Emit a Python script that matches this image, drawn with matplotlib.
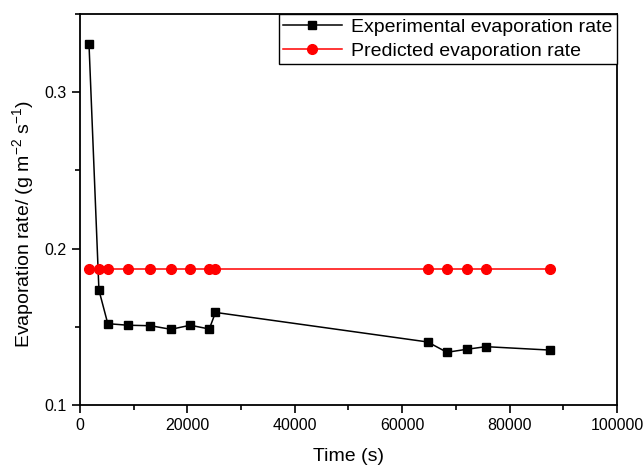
import matplotlib
matplotlib.use("Agg")
import matplotlib.pyplot as plt
from matplotlib.ticker import MultipleLocator

plt.rcParams['font.family'] = ['Liberation Sans', 'DejaVu Sans']

time_s = [1700, 3550, 5200, 9000, 13150, 16950, 20550, 24100, 25250,
          64750, 68350, 72000, 75600, 87600]
experimental = [0.331, 0.1735, 0.152, 0.151, 0.1507, 0.1484, 0.151, 0.1486, 0.1592,
                0.1403, 0.1337, 0.1356, 0.1373, 0.1351]
predicted = [0.187] * len(time_s)

fig = plt.figure(figsize=(6.44, 4.67), dpi=100)
ax = fig.add_axes([0.124, 0.1328, 0.834, 0.837])

ax.plot(time_s, experimental, color='black', marker='s', markersize=6.2, lw=1.1,
        label='Experimental evaporation rate')
ax.plot(time_s, predicted, color='red', marker='o', markersize=7, lw=1.1,
        label='Predicted evaporation rate')

ax.set_xlim(0, 100000)
ax.set_ylim(0.1, 0.35)
ax.xaxis.set_major_locator(MultipleLocator(20000))
ax.xaxis.set_minor_locator(MultipleLocator(10000))
ax.yaxis.set_major_locator(MultipleLocator(0.1))
ax.yaxis.set_minor_locator(MultipleLocator(0.05))
ax.tick_params(which='both', direction='out', top=False, right=False, width=1.2)
ax.tick_params(which='major', length=6, labelsize=11.5)
ax.tick_params(which='minor', length=3.5)
for s in ax.spines.values():
    s.set_linewidth(1.3)

ax.set_xlabel('Time (s)', fontsize=14, labelpad=11)
ax.set_ylabel('Evaporation rate/ (g m$^{\\mathregular{-2}}$ s$^{\\mathregular{-1}}$)', fontsize=14)
ax.yaxis.set_label_coords(-0.079, 0.462)

leg = ax.legend(loc='upper right', bbox_to_anchor=(1, 1), borderaxespad=0, fontsize=14,
                frameon=True, fancybox=False, edgecolor='black', framealpha=1,
                handlelength=3.0, handletextpad=0.5, labelspacing=0.33, borderpad=0.22)
leg.get_frame().set_linewidth(1.0)

fig.savefig('out.png', dpi=100)
